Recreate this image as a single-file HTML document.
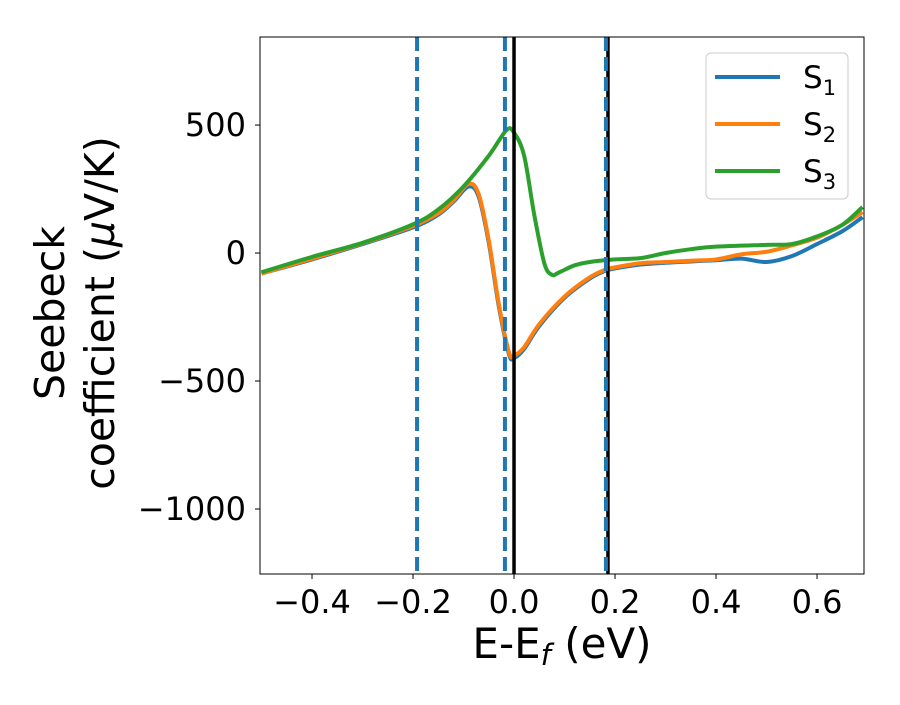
<!DOCTYPE html>
<html><head><meta charset="utf-8"><style>
body{margin:0;background:#fff}
svg text{font-family:"DejaVu Sans","Liberation Sans",sans-serif;fill:#000}
</style></head><body>
<svg id="c" width="900" height="700" xmlns="http://www.w3.org/2000/svg"></svg>
<script>
const energies1=[-0.5,-0.4,-0.3,-0.2,-0.15,-0.12,-0.09,-0.07,-0.05,-0.03,-0.01,0.0,0.02,0.05,0.1,0.15,0.18,0.2,0.25,0.3,0.35,0.4,0.45,0.5,0.55,0.6,0.65,0.69];
const s1Values=[-80,-25,35,100,150,200,260,220,40,-210,-395,-410,-375,-285,-175,-100,-70,-60,-45,-38,-33,-28,-22,-35,-12,35,85,140];
const s2Values=[-80,-22,38,105,155,205,270,230,50,-200,-388,-400,-368,-278,-170,-95,-66,-56,-40,-35,-30,-25,-5,5,30,60,110,160];
const energies3=[-0.5,-0.4,-0.3,-0.2,-0.15,-0.1,-0.05,-0.015,0.0,0.02,0.04,0.06,0.075,0.09,0.12,0.15,0.2,0.25,0.3,0.35,0.4,0.5,0.55,0.6,0.65,0.69];
const s3Values=[-75,-15,40,112,170,260,380,480,470,380,150,-40,-85,-75,-48,-35,-25,-20,0,15,25,32,35,65,110,180];
const xTicks=[-0.4,-0.2,0.0,0.2,0.4,0.6];
const xTickLabels=["−0.4","−0.2","0.0","0.2","0.4","0.6"];
const yTicks=[500,0,-500,-1000];
const yTickLabels=["500","0","−500","−1000"];
const dashedLines=[-0.192,-0.018,0.182];
const solidLines=[0.0,0.186];
const X0=260,X1=864,Y0=37,Y1=574;
const xMin=-0.503,xMax=0.693,yMin=-1254,yMax=844;
const sx=v=>X0+(v-xMin)/(xMax-xMin)*(X1-X0);
const sy=v=>Y1-(v-yMin)/(yMax-yMin)*(Y1-Y0);
const svg=document.getElementById('c');const NS='http://www.w3.org/2000/svg';
function mk(t,a,p){const e=document.createElementNS(NS,t);for(const k in a)e.setAttribute(k,a[k]);(p||svg).appendChild(e);return e;}
const clip=mk('clipPath',{id:'pc'});mk('rect',{x:X0,y:Y0,width:X1-X0,height:Y1-Y0},clip);
function pathD(xs,ys){const p=xs.map((x,i)=>[sx(x),sy(ys[i])]);let d='M'+p[0][0]+','+p[0][1];
for(let i=0;i<p.length-1;i++){const a=p[Math.max(i-1,0)],b=p[i],c=p[i+1],e=p[Math.min(i+2,p.length-1)];
d+=' C'+(b[0]+(c[0]-a[0])/6)+','+(b[1]+(c[1]-a[1])/6)+' '+(c[0]-(e[0]-b[0])/6)+','+(c[1]-(e[1]-b[1])/6)+' '+c[0]+','+c[1];}return d;}
const g=mk('g',{'clip-path':'url(#pc)'});
const series=[[energies1,s1Values,'#1f77b4','series-s1'],[energies1,s2Values,'#ff7f0e','series-s2'],[energies3,s3Values,'#2ca02c','series-s3']];
series.forEach(s=>{const p=mk('path',{d:pathD(s[0],s[1]),fill:'none',stroke:s[2],'stroke-width':4,'stroke-linejoin':'round'},g);

});
solidLines.forEach(v=>{const l=mk('line',{x1:sx(v),x2:sx(v),y1:Y0,y2:Y1,stroke:'#000','stroke-width':3.5},g);

});
dashedLines.forEach(v=>{const l=mk('line',{x1:sx(v),x2:sx(v),y1:Y0,y2:Y1,stroke:'#1f77b4','stroke-width':4,'stroke-dasharray':'14,6'},g);

});
mk('rect',{x:X0,y:Y0,width:X1-X0,height:Y1-Y0,fill:'none',stroke:'#000','stroke-width':1});
xTicks.forEach((v,i)=>{mk('line',{x1:sx(v),x2:sx(v),y1:Y1,y2:Y1+5,stroke:'#000'});
const t=mk('text',{x:sx(v),y:Y1+39,'font-size':32,'text-anchor':'middle'});t.textContent=xTickLabels[i];

});
yTicks.forEach((v,i)=>{mk('line',{x1:X0-5,x2:X0,y1:sy(v),y2:sy(v),stroke:'#000'});
const t=mk('text',{x:X0-14,y:sy(v)+11,'font-size':32,'text-anchor':'end'});t.textContent=yTickLabels[i];

});
</script>
<svg width="900" height="700" style="position:absolute;left:0;top:0">
<text x="562" y="658" font-size="42" text-anchor="middle">E-E<tspan font-style="italic" font-size="29" dy="7">f</tspan><tspan dy="-7"> (eV)</tspan></text>
<g transform="translate(64,313) rotate(-90)">
<text x="0" y="0" font-size="41" text-anchor="middle">Seebeck</text>
<text x="0" y="50" font-size="41" text-anchor="middle">coefficient  (<tspan font-style="italic">μ</tspan>V/K)</text>
</g>
<g>
<rect x="706" y="53" width="142" height="146" rx="5" fill="#fff" fill-opacity="0.8" stroke="#ccc"/>
<g><line x1="715" x2="780" y1="77" y2="77" stroke="#1f77b4" stroke-width="4"/><text x="803" y="88" font-size="31">S<tspan font-size="21" dy="7">1</tspan></text></g>
<g><line x1="715" x2="780" y1="124" y2="124" stroke="#ff7f0e" stroke-width="4"/><text x="803" y="135" font-size="31">S<tspan font-size="21" dy="7">2</tspan></text></g>
<g><line x1="715" x2="780" y1="171" y2="171" stroke="#2ca02c" stroke-width="4"/><text x="803" y="182" font-size="31">S<tspan font-size="21" dy="7">3</tspan></text></g>
</g>
</svg>
</body></html>
